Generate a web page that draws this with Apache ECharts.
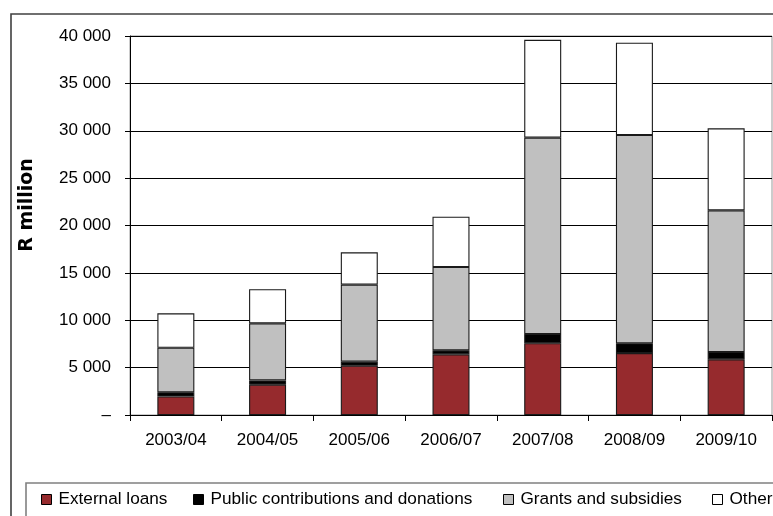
<!DOCTYPE html>
<html>
<head>
<meta charset="utf-8">
<script src="https://cdn.jsdelivr.net/npm/echarts@6/dist/echarts.min.js"></script>
<style>
  html, body { margin: 0; padding: 0; background: #fff; }
  #chart { width: 773px; height: 516px; }
</style>
</head>
<body>
<div id="chart"></div>
<script>
// Financing sources by fiscal year, R million
const years = ['2003/04', '2004/05', '2005/06', '2006/07', '2007/08', '2008/09', '2009/10'];
const externalLoans = [1950, 3200, 5200, 6400, 7570, 6540, 5880];
const publicContributions = [450, 450, 430, 430, 980, 1030, 770];
const grantsSubsidies = [4700, 6030, 8120, 8790, 20720, 21980, 14950];
const other = [3630, 3590, 3420, 5310, 10330, 9750, 8660];
const seriesNames = ['External loans', 'Public contributions and donations', 'Grants and subsidies', 'Other'];
const yTicks = { min: 0, max: 40000, interval: 5000 };
const yTitle = 'R million';

const FONT = '"Liberation Sans", Arial, sans-serif';
const colors = ['#962a2d', '#000000', '#c0c0c0', '#ffffff'];
const values = [externalLoans, publicContributions, grantsSubsidies, other];
// left edge of each legend entry
const legendLeft = [41, 193, 503, 712];

function fmt(v) {
  if (v === 0) return '\u2013';
  return String(v).replace(/\B(?=(\d{3})+(?!\d))/g, ' ');
}

const chart = echarts.init(document.getElementById('chart'), null, { renderer: 'canvas' });
chart.setOption({
  animation: false,
  backgroundColor: '#fff',
  graphic: [
    { type: 'rect', shape: { x: 11, y: 14, width: 800, height: 560 },
      style: { fill: 'none', stroke: '#404040', lineWidth: 1.6 }, z: -10 },
    { type: 'rect', shape: { x: 26, y: 483, width: 800, height: 100 },
      style: { fill: 'none', stroke: '#808080', lineWidth: 1.6 }, z: -10 },
    { type: 'text', x: 27, y: 205, rotation: Math.PI / 2,
      style: { text: yTitle, fill: '#000', fontFamily: '"DejaVu Sans", sans-serif',
               fontWeight: 'bold', fontSize: 19, align: 'center', verticalAlign: 'middle' } }
  ],
  grid: { left: 130, right: 1, top: 36, bottom: 101, show: true, borderColor: '#999', borderWidth: 1, containLabel: false },
  legend: seriesNames.map((name, i) => ({
    left: legendLeft[i], top: 491, padding: 0,
    itemWidth: 10, itemHeight: 10,
    icon: 'rect',
    itemStyle: { borderColor: '#000', borderWidth: 1 },
    textStyle: { fontFamily: FONT, fontSize: 17.2, color: '#000', padding: [0, 0, 0, 2] },
    data: [name]
  })),
  xAxis: {
    type: 'category',
    data: years,
    axisLine: { lineStyle: { color: '#000', width: 1 } },
    axisTick: { show: true, length: 6, lineStyle: { color: '#000' } },
    axisLabel: { fontFamily: FONT, fontSize: 17, color: '#000', margin: 17 }
  },
  yAxis: {
    type: 'value',
    min: yTicks.min, max: yTicks.max, interval: yTicks.interval,
    axisLine: { show: true, lineStyle: { color: '#000', width: 1 } },
    axisTick: { show: true, length: 5, lineStyle: { color: '#000' } },
    splitLine: { lineStyle: { color: '#000', width: 1 } },
    axisLabel: { fontFamily: FONT, fontSize: 17, color: '#000', margin: 19, formatter: fmt }
  },
  series: seriesNames.map((name, i) => ({
    name,
    type: 'bar',
    stack: 'total',
    barWidth: 37,
    data: values[i],
    itemStyle: { color: colors[i], borderColor: '#1a1a1a', borderWidth: 1.1 }
  }))
});
</script>
</body>
</html>
